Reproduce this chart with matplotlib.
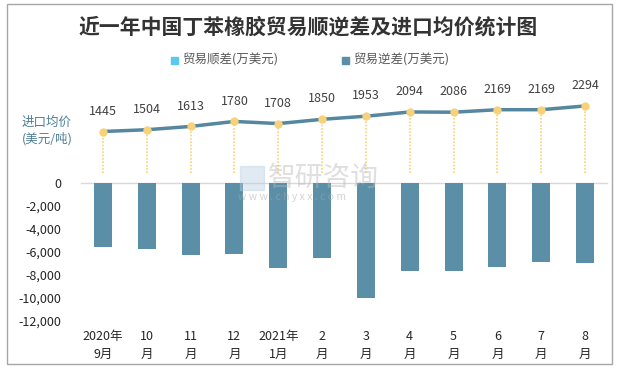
import matplotlib
matplotlib.use("Agg")
from matplotlib import pyplot as plt
from matplotlib.patches import Rectangle
import numpy as np

plt.rcParams['font.family'] = ['Noto Sans CJK SC', 'DejaVu Sans']

# months (x labels)
months = ['2020年\n9月', '10\n月', '11\n月', '12\n月', '2021年\n1月', '2\n月',
          '3\n月', '4\n月', '5\n月', '6\n月', '7\n月', '8\n月']

# trade balance (万美元): surplus is empty, deficit negative
surplus = [0, 0, 0, 0, 0, 0, 0, 0, 0, 0, 0, 0]
deficit = [-5570, -5740, -6260, -6170, -7390, -6520,
           -10000, -7650, -7650, -7300, -6870, -6960]

# average import price (美元/吨)
price = [1445, 1504, 1613, 1780, 1708, 1850, 1953, 2094, 2086, 2169, 2169, 2294]

BAR = '#5b8fa8'
SURPLUS = '#5bc8f0'
LINE = '#5587a0'
DOT = '#f7d27a'

W, H = 617, 369
fig = plt.figure(figsize=(W / 100, H / 100), dpi=100)

def fx(px):
    return px / W

def fy(px):
    return 1 - px / H

x = np.arange(len(months))

# bar axes: 0 at y=183px, -12000 at y=321px
ax = fig.add_axes([fx(81), fy(320.7), fx(607) - fx(81), fy(182.7) - fy(320.7)])
ax.bar(x, surplus, width=0.41, color=SURPLUS)
ax.bar(x, deficit, width=0.41, color=BAR)
ax.set_xlim(-0.5, len(months) - 0.5)
ax.set_ylim(-12000, 0)
ax.axhline(0, color='#d9d9d9', lw=1, clip_on=False, zorder=0)
ax.set_yticks(np.arange(-12000, 1, 2000))
ax.set_yticklabels(['{:,}'.format(v) for v in range(-12000, 1, 2000)])
ax.set_xticks(x)
ax.set_xticklabels(months, linespacing=1.45)
ax.tick_params(axis='both', length=0, labelsize=9, colors='#262626')
ax.tick_params(axis='y', pad=14)
ax.tick_params(axis='x', pad=7)
for s in ax.spines.values():
    s.set_visible(False)
ax.patch.set_visible(False)

# price line axes: 0 at y=175px
ax2 = fig.add_axes([fx(81), fy(175), fx(607) - fx(81), fy(85) - fy(175)])
ax2.set_xlim(-0.5, len(months) - 0.5)
ax2.set_ylim(0, 2990)
ax2.vlines(x, 60, price, colors=DOT, linestyles=(0, (1, 1)), lw=1.2, zorder=1)
ax2.plot(x, price, color=LINE, lw=2.5, zorder=2)
ax2.plot(x, price, 'o', color=DOT, ms=5, mec=DOT, zorder=3)
for xi, p in zip(x, price):
    ax2.annotate(str(p), (xi, p), xytext=(0, 10), textcoords='offset points',
                 ha='center', va='bottom', fontsize=9, color='#404040')
ax2.axis('off')

# title and legend
fig.text(0.5, fy(27), '近一年中国丁苯橡胶贸易顺逆差及进口均价统计图',
         ha='center', va='center', fontsize=15, fontweight='bold', color='#333333')
fig.patches.append(Rectangle((fx(171), fy(63.5)), fx(7), 7 / H, color=SURPLUS,
                             transform=fig.transFigure))
fig.text(fx(182), fy(60), '贸易顺差(万美元)', ha='left', va='center', fontsize=9, color='#595959')
fig.patches.append(Rectangle((fx(342), fy(63.5)), fx(7), 7 / H, color=BAR,
                             transform=fig.transFigure))
fig.text(fx(353), fy(60), '贸易逆差(万美元)', ha='left', va='center', fontsize=9, color='#595959')

# left label for price
fig.text(fx(22), fy(122), '进口均价', ha='left', va='center', fontsize=9, color='#4f7f99')
fig.text(fx(22), fy(139), '(美元/吨)', ha='left', va='center', fontsize=9, color='#4f7f99')

# watermark
fig.text(fx(268), fy(178), '智研咨询', ha='left', va='center', fontsize=20,
         color='#b8b8b8', alpha=0.45)
fig.text(fx(238), fy(197), 'w w w . c h y x x . c o m', ha='left', va='center',
         fontsize=7.5, color='#a8a8a8', alpha=0.5)
fig.patches.append(Rectangle((fx(240), fy(190)), fx(24), 24 / H, color='#b4cce0',
                             alpha=0.4, transform=fig.transFigure))

# outer frame
fig.patches.append(Rectangle((fx(7), fy(364)), fx(605), fy(4) - fy(364), fill=False,
                             ec='#a6a6a6', lw=1, transform=fig.transFigure))

fig.savefig('out.png', dpi=100)
